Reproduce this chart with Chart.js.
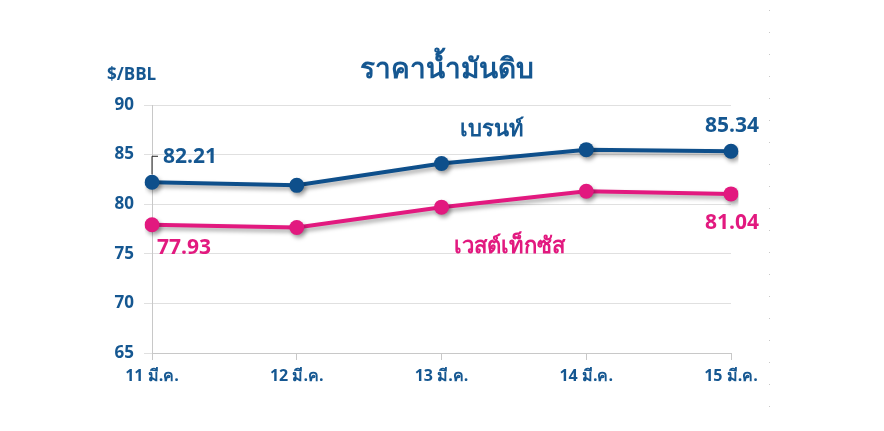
<!DOCTYPE html>
<html>
<head>
<meta charset="utf-8">
<script src="https://cdn.jsdelivr.net/npm/chart.js@4.4.1/dist/chart.umd.min.js"></script>
<style>
html,body{margin:0;padding:0;background:#fff;}
#wrap{width:884px;height:431px;}
</style>
</head>
<body>
<div id="wrap"><canvas id="c" width="884" height="431"></canvas></div>
<script>
const categories = ['11 มี.ค.', '12 มี.ค.', '13 มี.ค.', '14 มี.ค.', '15 มี.ค.'];
const brent = [82.21, 81.9, 84.1, 85.5, 85.34];
const wti = [77.93, 77.65, 79.7, 81.3, 81.04];
const yTicks = [65, 70, 75, 80, 85, 90];
const titleText = 'ราคาน้ำมันดิบ';
const unitText = '$/BBL';
const brentName = 'เบรนท์';
const wtiName = 'เวสต์เท็กซัส';

const BLUE = '#0e4f8b';
const BLUE_TXT = '#155791';
const PINK = '#e2197f';
const FONT = '"Open Sans", "Noto Sans", sans-serif';

const shadowPlugin = {
  id: 'shadow',
  beforeDatasetsDraw(chart) {
    const ctx = chart.ctx;
    ctx.save();
    ctx.shadowColor = 'rgba(0,0,0,0.35)';
    ctx.shadowBlur = 4;
    ctx.shadowOffsetX = 2;
    ctx.shadowOffsetY = 3;
  },
  afterDatasetsDraw(chart) {
    chart.ctx.restore();
  }
};

const textPlugin = {
  id: 'texts',
  beforeDraw(chart) {
    const ctx = chart.ctx;
    ctx.save();
    ctx.fillStyle = '#c8c8c8';
    for (let y = 10; y < 420; y += 22) ctx.fillRect(769, y, 1, 1);
    ctx.restore();
  },
  afterDraw(chart) {
    const ctx = chart.ctx;
    const xs = chart.scales.x, ys = chart.scales.y;
    ctx.save();
    ctx.textBaseline = 'middle';
    // title
    ctx.fillStyle = BLUE_TXT;
    ctx.font = 'bold 28px ' + FONT;
    ctx.textAlign = 'center';
    ctx.fillText(titleText, 447, 70);
    // unit
    ctx.font = 'bold 17px ' + FONT;
    ctx.textAlign = 'left';
    ctx.fillText(unitText, 107, 75);

    const step = xs.getPixelForValue(1) - xs.getPixelForValue(0);
    // first brent label with leader
    const bx0 = xs.getPixelForValue(0), by0 = ys.getPixelForValue(brent[0]);
    ctx.strokeStyle = '#222';
    ctx.lineWidth = 1;
    ctx.beginPath();
    ctx.moveTo(bx0, by0 - 8);
    ctx.lineTo(bx0, by0 - 26);
    ctx.lineTo(bx0 + 6, by0 - 26);
    ctx.stroke();
    ctx.font = 'bold 21px ' + FONT;
    ctx.fillStyle = BLUE_TXT;
    ctx.textAlign = 'left';
    ctx.fillText(brent[0].toFixed(2), bx0 + 11, by0 - 25);
    // last brent
    const bx4 = xs.getPixelForValue(4), by4 = ys.getPixelForValue(brent[4]);
    ctx.textAlign = 'center';
    ctx.fillText(brent[4].toFixed(2), bx4 + 1, by4 - 25);
    // wti labels
    ctx.fillStyle = PINK;
    const wx0 = xs.getPixelForValue(0), wy0 = ys.getPixelForValue(wti[0]);
    ctx.textAlign = 'left';
    ctx.fillText(wti[0].toFixed(2), wx0 + 5, wy0 + 23);
    const wx4 = xs.getPixelForValue(4), wy4 = ys.getPixelForValue(wti[4]);
    ctx.textAlign = 'center';
    ctx.fillText(wti[4].toFixed(2), wx4 + 1, wy4 + 29);
    // series names
    ctx.font = 'bold 22px ' + FONT;
    ctx.fillStyle = BLUE_TXT;
    ctx.fillText(brentName, xs.getPixelForValue(2) + step * 0.35, ys.getPixelForValue(87.5));
    ctx.fillStyle = PINK;
    ctx.fillText(wtiName, xs.getPixelForValue(2) + step * 0.47, ys.getPixelForValue(75.7));
    ctx.restore();
  }
};

new Chart(document.getElementById('c'), {
  type: 'line',
  data: {
    labels: categories,
    datasets: [
      { label: brentName, data: brent, borderColor: BLUE, backgroundColor: BLUE, borderWidth: 4,
        pointRadius: 7.5, pointHoverRadius: 7.5, pointBackgroundColor: BLUE, pointBorderWidth: 0, tension: 0 },
      { label: wtiName, data: wti, borderColor: PINK, backgroundColor: PINK, borderWidth: 4,
        pointRadius: 7.5, pointHoverRadius: 7.5, pointBackgroundColor: PINK, pointBorderWidth: 0, tension: 0 }
    ]
  },
  options: {
    responsive: false,
    animation: false,
    devicePixelRatio: 1,
    layout: { padding: { top: 105, right: 153, bottom: 0, left: 0 } },
    plugins: { legend: { display: false }, tooltip: { enabled: false }, title: { display: false } },
    scales: {
      x: {
        offset: false,
        grid: { display: true, drawOnChartArea: false, color: '#c8c8c8', tickLength: 7, lineWidth: 1 },
        border: { color: '#c8c8c8', width: 1 },
        ticks: { color: BLUE_TXT, font: { family: FONT, size: 16, weight: 'bold' }, padding: 7, maxRotation: 0 },
        afterFit(s) { s.height = 78; }
      },
      y: {
        min: 65, max: 90,
        afterBuildTicks(s) { s.ticks = yTicks.map(v => ({ value: v })); },
        grid: { color: '#e0e0e0', tickLength: 8, lineWidth: 1 },
        border: { color: '#c8c8c8', width: 1 },
        ticks: { color: BLUE_TXT, font: { family: FONT, size: 17, weight: 'bold' }, padding: 10 },
        afterFit(s) { s.width = 152; }
      }
    }
  },
  plugins: [shadowPlugin, textPlugin]
});
</script>
</body>
</html>
